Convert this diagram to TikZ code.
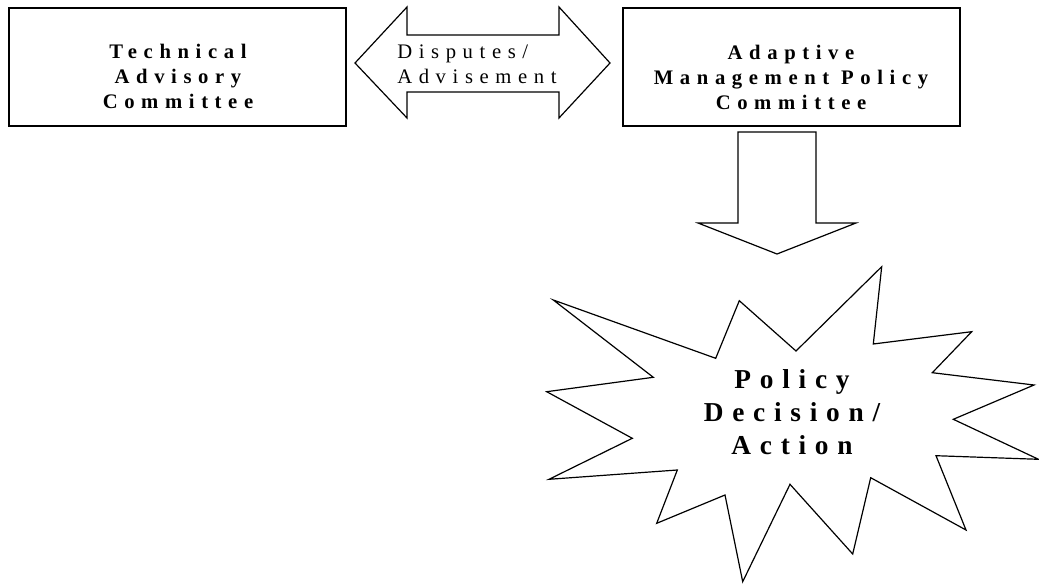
\documentclass[tikz,border=0pt]{standalone}
\usepackage{fontspec}
\newfontfamily\spacedfont[LetterSpace=32]{Liberation Serif}
\tikzset{
  box/.style={draw, line width=0.9pt, minimum width=252.75pt, minimum height=88.5pt, inner sep=0pt},
  boxtext/.style={align=center, inner sep=0pt, font=\spacedfont\bfseries\fontsize{15.5}{18.75}\selectfont},
  arrowtext/.style={align=left, inner sep=0pt, font=\spacedfont\fontsize{15.5}{18.75}\selectfont},
  bursttext/.style={align=center, inner sep=0pt, font=\spacedfont\bfseries\fontsize{20.5}{24.75}\selectfont},
  outline/.style={draw, line width=0.9pt, line join=miter}
}
\begin{document}
\begin{tikzpicture}[x=0.75pt, y=-0.75pt]
        \useasboundingbox (0,0) rectangle (1039,585);
        % committees
        \node[box] (tac) at (177.5,67) {};
        \node[boxtext] (tactext) at (178,76) {Technical\\Advisory\\Committee};
        \node[box] (ampc) at (791.5,67) {};
        \node[boxtext] (ampctext) at (791,77) {Adaptive\\Management Policy\\Committee};
        % two way arrow
        \draw[outline] (355,63) -- (407,7) -- (407,35) -- (559,35) -- (559,7) -- (610,63)
                -- (559,118) -- (559,92) -- (407,92) -- (407,118) -- cycle;
        \node[arrowtext, anchor=west] (disp) at (397,64) {Disputes/\\Advisement};
        % down arrow
        \draw[outline] (738,132) -- (816,132) -- (816,223) -- (856,223) -- (777,254)
                -- (698,223) -- (738,223) -- cycle;
        % burst
        \draw[outline] (553.3,300) -- (653.3,377.3) -- (546.7,391.7) -- (632.3,438.3)
                -- (549,479.3) -- (677.3,470) -- (656.7,523.3) -- (725,495)
                -- (742.7,581.7) -- (790,484.3) -- (852.7,554) -- (870.7,477.7)
                -- (966,530) -- (936,455.7) -- (1038.5,459.3) -- (953.3,419.3)
                -- (1034,385) -- (932.3,372.7) -- (971.7,331.7) -- (873.3,344)
                -- (881.7,266.7) -- (796,351) -- (739.3,300.7) -- (715.7,358.3) -- cycle;
        \node[bursttext] (pda) at (792,412) {Policy\\Decision/\\Action};
\end{tikzpicture}
\end{document}
